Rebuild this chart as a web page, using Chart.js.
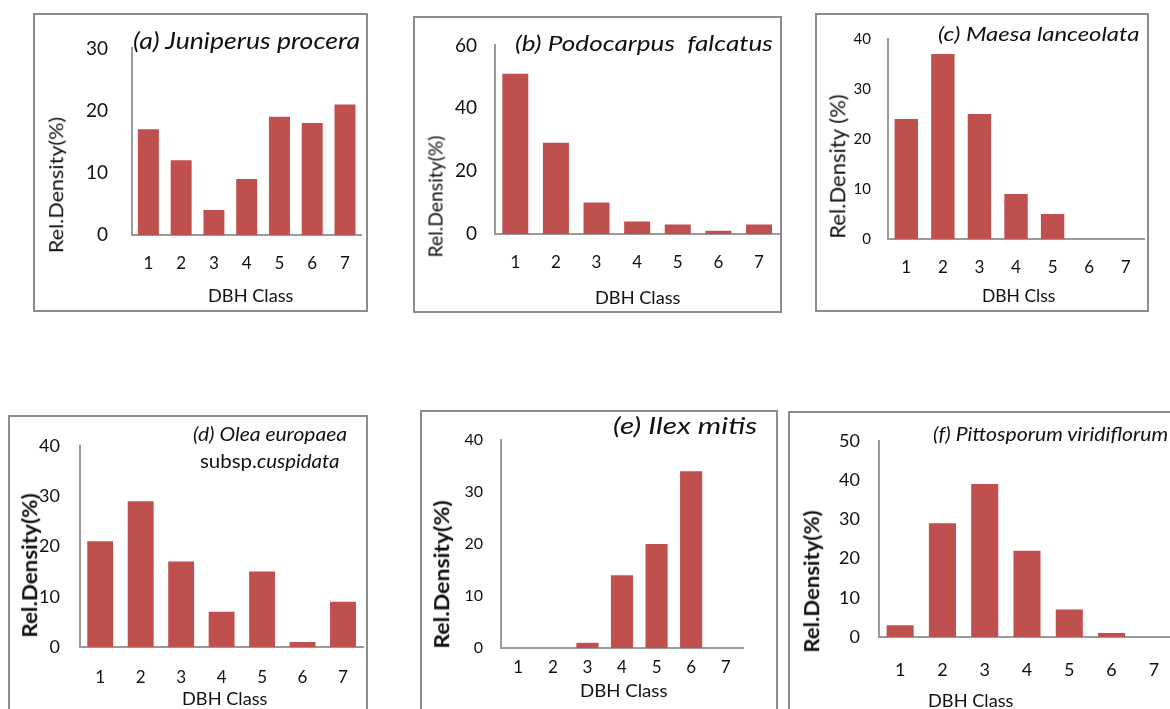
<!DOCTYPE html>
<html>
<head>
<meta charset="utf-8">
<script src="https://cdn.jsdelivr.net/npm/chart.js@4.4.1/dist/chart.umd.min.js"></script>
<style>
  body { margin: 0; width: 1170px; height: 709px; overflow: hidden; background: #fff; font-family: Lato, sans-serif; color: #111; }
  .box { position: absolute; border: 2px solid #8c8c8c; box-sizing: border-box; }
  canvas { position: absolute; }
  .lbl { position: absolute; white-space: nowrap; line-height: 1; }
</style>
</head>
<body>
<script>
// --- データ (相対密度 %, DBHクラス別) ---
const dbhClasses  = ['1', '2', '3', '4', '5', '6', '7'];
const juniperus   = [17, 12, 4, 9, 19, 18, 21];
const podocarpus  = [51, 29, 10, 4, 3, 1, 3];
const maesa       = [24, 37, 25, 9, 5, 0, 0];
const olea        = [21, 29, 17, 7, 15, 1, 9];
const ilex        = [0, 0, 1, 14, 20, 34, 0];
const pittosporum = [3, 29, 39, 22, 7, 1, 0];
const yMaxes      = [30, 60, 40, 40, 40, 50];
const ySteps      = [10, 20, 10, 10, 10, 10];

const BAR  = '#C0504D';
const AXIS = '#9a9a9a';
const TEXT = '#111';

// パネル配置 (box: 枠, plot: 描画領域, ページ座標)
// texts: x,y = 位置, s = フォントサイズ, w = 表示幅(縦書きは長さ), k = l/c/v
const panels = [
  { values: juniperus, box: [33, 13, 368, 312], plot: [132, 48, 367, 235],
    yTick: 19, yPad: 24, xTick: 17, xPad: 18,
    texts: [
      { t: '(a) Juniperus procera', x: 133, y: 40, s: 23, w: 227, it: true, k: 'l' },
      { t: 'DBH Class', x: 250, y: 295, s: 18, w: 85, k: 'c' },
      { t: 'Rel.Density(%)', x: 55, y: 185, s: 20, w: 136, k: 'v' }
    ] },
  { values: podocarpus, box: [413, 16, 782, 313], plot: [495, 32, 781, 234],
    yTick: 19, yPad: 18, xTick: 17, xPad: 18,
    texts: [
      { t: '(b) Podocarpus&nbsp; falcatus', x: 515, y: 43, s: 22, w: 258, it: true, k: 'l' },
      { t: 'DBH Class', x: 637, y: 297, s: 18, w: 85, k: 'c' },
      { t: 'Rel.Density(%)', x: 435, y: 196, s: 19, w: 122, k: 'v' }
    ] },
  { values: maesa, box: [815, 13, 1149, 312], plot: [888, 27, 1145, 239],
    yTick: 15, yPad: 17, xTick: 17, xPad: 18,
    texts: [
      { t: '(c) Maesa lanceolata', x: 938, y: 33, s: 19, w: 202, it: true, k: 'l' },
      { t: 'DBH Clss', x: 1018, y: 295, s: 17, w: 73, k: 'c' },
      { t: 'Rel.Density (%)', x: 837, y: 166, s: 21, w: 145, k: 'v' }
    ] },
  { values: olea, box: [8, 415, 368, 725], plot: [80, 429, 367, 647],
    yTick: 18, yPad: 20, xTick: 17, xPad: 20,
    texts: [
      { t: '(d) Olea europaea', x: 193, y: 433, s: 19, w: 154, it: true, k: 'l' },
      { t: 'subsp.<i>cuspidata</i>', x: 200, y: 460, s: 19, w: 140, k: 'l' },
      { t: 'DBH Class', x: 224, y: 698, s: 18, w: 85, k: 'c' },
      { t: 'Rel.Density(%)', x: 28, y: 565, s: 21, w: 144, b: true, k: 'v' }
    ] },
  { values: ilex, box: [420, 410, 778, 725], plot: [501, 440, 743, 648],
    yTick: 16, yPad: 18, xTick: 17, xPad: 9,
    texts: [
      { t: '(e) Ilex mitis', x: 613, y: 425, s: 23, w: 144, it: true, k: 'l' },
      { t: 'DBH Class', x: 623, y: 690, s: 18, w: 87, k: 'c' },
      { t: 'Rel.Density(%)', x: 440, y: 574, s: 21, w: 148, b: true, k: 'v' }
    ] },
  { values: pittosporum, box: [788, 411, 1190, 725], plot: [879, 424, 1175, 637],
    yTick: 18, yPad: 19, xTick: 18, xPad: 22,
    texts: [
      { t: '(f) Pittosporum viridiflorum', x: 933, y: 433, s: 19, w: 235, it: true, k: 'l' },
      { t: 'DBH Class', x: 970, y: 700, s: 18, w: 85, k: 'c' },
      { t: 'Rel.Density(%)', x: 810, y: 581, s: 21, w: 142, b: true, k: 'v' }
    ] }
];

function addLabel(o) {
  const d = document.createElement('div');
  d.className = 'lbl';
  d.innerHTML = o.t;
  d.style.fontSize   = o.s + 'px';
  d.style.fontStyle  = o.it ? 'italic' : 'normal';
  d.style.fontWeight = o.b ? 'bold' : 'normal';
  document.body.appendChild(d);

  const nw = d.offsetWidth, nh = d.offsetHeight;
  const k  = o.w / nw;
  if (o.k === 'v') {
    d.style.left = (o.x - nw / 2) + 'px';
    d.style.top  = (o.y - nh / 2) + 'px';
    d.style.transform = `rotate(-90deg) scaleX(${k})`;
  } else {
    d.style.left = (o.k === 'c' ? o.x - o.w / 2 : o.x) + 'px';
    d.style.top  = o.y + 'px';
    d.style.transformOrigin = '0 50%';
    d.style.transform = `translateY(-50%) scaleX(${k})`;
  }
}

panels.forEach((p, i) => {
  const [bl, bt, br, bb] = p.box;
  const [pl, pt, pr, pb] = p.plot;

  const frame = document.createElement('div');
  frame.className = 'box';
  Object.assign(frame.style, { left: bl + 'px', top: bt + 'px', width: (br - bl) + 'px', height: (bb - bt) + 'px' });
  document.body.appendChild(frame);

  const cv = document.createElement('canvas');
  cv.width = br - bl;
  cv.height = bb - bt;
  Object.assign(cv.style, { left: bl + 'px', top: bt + 'px', width: cv.width + 'px', height: cv.height + 'px' });
  document.body.appendChild(cv);

  new Chart(cv.getContext('2d'), {
    type: 'bar',
    data: {
      labels: dbhClasses,
      datasets: [{
        data: p.values,
        backgroundColor: BAR,
        borderWidth: 0,
        barPercentage: 0.64,
        categoryPercentage: 1
      }]
    },
    options: {
      responsive: false,
      animation: false,
      layout: { padding: { left: 0, top: pt - bt, right: br - pr, bottom: 0 } },
      plugins: { legend: { display: false }, tooltip: { enabled: false } },
      scales: {
        x: {
          grid:   { display: false, drawTicks: false },
          border: { display: true, color: AXIS, width: 2 },
          ticks:  { color: TEXT, padding: p.xPad, font: { family: 'Lato', size: p.xTick } },
          afterFit: s => { s.height = bb - pb; }
        },
        y: {
          min: 0, max: yMaxes[i],
          grid:   { display: false, drawTicks: false },
          border: { display: true, color: AXIS, width: 2 },
          ticks:  { color: TEXT, stepSize: ySteps[i], padding: p.yPad, font: { family: 'Lato', size: p.yTick } },
          afterFit: s => { s.width = pl - bl; }
        }
      }
    }
  });

  // タイトル・軸ラベル (テキストとして配置)
  p.texts.forEach(addLabel);
});
</script>
</body>
</html>
